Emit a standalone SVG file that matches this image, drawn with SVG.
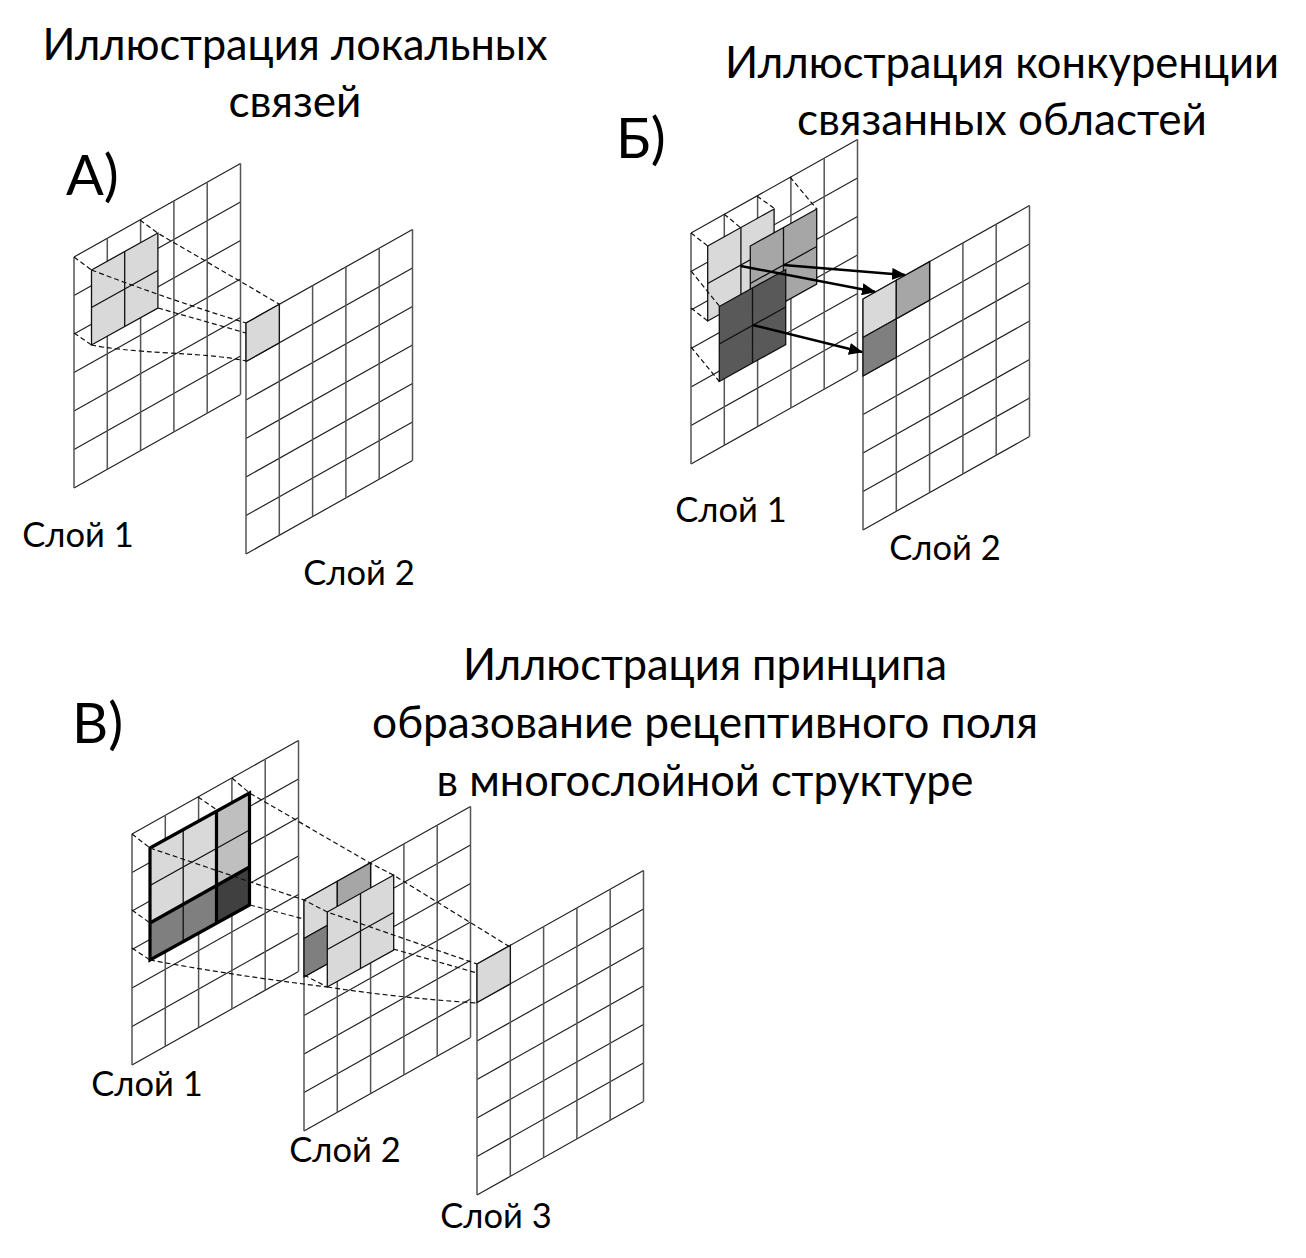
<svg xmlns="http://www.w3.org/2000/svg" width="1306" height="1258" viewBox="0 0 1306 1258">
<style>
text{font-family:"Lato","Open Sans","Noto Sans",sans-serif;fill:#000}
.t{font-size:44px;text-anchor:middle}
.l{font-size:34.5px;text-anchor:middle}
.h{font-size:56px}
.gv{fill:none;stroke:#555;stroke-width:1.5}
.gh{fill:none;stroke:#222;stroke-width:1.2}
.d{fill:none;stroke:#111;stroke-width:1.2;stroke-dasharray:5 3}
.a{fill:none;stroke:#000;stroke-width:2.4;marker-end:url(#ah)}
.k{fill:none;stroke:#000;stroke-width:3.2}
.p1{fill:#d9d9d9}.p2{fill:#a6a6a6}.p3{fill:#7f7f7f}.p4{fill:#595959}.p5{fill:#bfbfbf}.p6{fill:#404040}
</style>
<defs>
<marker id="ah" markerUnits="userSpaceOnUse" markerWidth="14" markerHeight="12" refX="13" refY="6" orient="auto"><path d="M0 0L14 6L0 12z" fill="#000"/></marker>
<g id="grid"><path class="gh" d="M0 0L166.5-93.5M0 38.5L166.5-55M0 77L166.5-16.5M0 115.5L166.5 22M0 154L166.5 60.5M0 192.5L166.5 99M0 231L166.5 137.5"/><path class="gv" d="M0 0V231M33.3-18.7V212.3M66.6-37.4V193.6M99.9-56.1V174.9M133.2-74.8V156.2M166.5-93.5V137.5"/></g>
<g id="patch2"><path d="M0 0L66.4-37V38L0 75z" stroke="#111" stroke-width="1.3"/><path d="M33.2-18.5V56.5M0 37.5L66.4 .5" fill="none" stroke="#111" stroke-width="1.3"/></g>
<path id="cell" stroke="#111" stroke-width="1.3" d="M0 0L33.3-18.7V19.8L0 38.5z"/>
</defs>

<g id="title-a"><text class="t" x="295" y="60" textLength="505" lengthAdjust="spacingAndGlyphs">Иллюстрация локальных</text><text class="t" x="295" y="117" textLength="133" lengthAdjust="spacingAndGlyphs">связей</text></g>
<g id="title-b"><text class="t" x="1002" y="78" textLength="554" lengthAdjust="spacingAndGlyphs">Иллюстрация конкуренции</text><text class="t" x="1002" y="135" textLength="410" lengthAdjust="spacingAndGlyphs">связанных областей</text></g>
<g id="title-c"><text class="t" x="705" y="680" textLength="484" lengthAdjust="spacingAndGlyphs">Иллюстрация принципа</text><text class="t" x="705" y="738" textLength="666" lengthAdjust="spacingAndGlyphs">образование рецептивного поля</text><text class="t" x="705" y="796" textLength="537" lengthAdjust="spacingAndGlyphs">в многослойной структуре</text></g>
<text id="mark-a" class="h" x="66" y="195">А)</text>
<text id="mark-b" class="h" x="616" y="158">Б)</text>
<text id="mark-c" class="h" x="72" y="743">В)</text>

<g id="a-layer1"><use href="#grid" x="74" y="257"/><use class="p1" href="#patch2" x="91.5" y="270"/><text class="l" x="78" y="547">Слой 1</text></g>
<g id="a-layer2"><use href="#grid" x="246" y="323"/><use class="p1" href="#cell" x="246" y="323"/><text class="l" x="359" y="585">Слой 2</text></g>

<g id="b-layer1"><use href="#grid" x="691" y="233"/>
<use class="p1" href="#patch2" x="707.7" y="246"/><use class="p2" href="#patch2" x="750.3" y="246"/><use class="p4" href="#patch2" x="719.3" y="306.5"/><text class="l" x="731" y="522">Слой 1</text></g>
<g id="b-layer2"><use href="#grid" x="863" y="299"/><use class="p1" href="#cell" x="863" y="299"/><use class="p2" href="#cell" x="896.3" y="280.3"/><use class="p3" href="#cell" x="863" y="337.5"/><text class="l" x="945" y="560">Слой 2</text></g>

<g id="c-layer1"><use href="#grid" x="132" y="834"/>
<path class="p1" d="M150 848L216.5 811V885.5L150 923z"/><path class="p5" d="M216.5 811L249.5 793V867L216.5 885.5z"/><path class="p3" d="M150 923L216.5 885.5V923L150 960z"/><path class="p6" d="M216.5 885.5L249.5 867V905L216.5 923z"/>
<path fill="none" stroke="#111" stroke-width="1.3" d="M183.2 829.5V941.5M150 885.5L249.5 830"/>
<path class="k" d="M150 848L249.5 793V905L150 960zM216.5 811V923M150 923L249.5 867"/>
<text class="l" x="147" y="1096">Слой 1</text></g>
<g id="c-layer2"><use href="#grid" x="304" y="900"/><use class="p1" href="#cell" x="304" y="900"/><use class="p2" href="#cell" x="337.3" y="881.3"/><use class="p3" href="#cell" x="304" y="938.5"/><use class="p1" href="#patch2" x="327.3" y="912"/><text class="l" x="345" y="1162">Слой 2</text></g>
<g id="c-layer3"><use href="#grid" x="477" y="964"/><use class="p1" href="#cell" x="477" y="964"/><text class="l" x="496" y="1228">Слой 3</text></g>

<g id="connectors">
<path class="d" d="M74 257L91.5 270M74 333L91.5 345M140 220L157.5 233L279 304M91.5 270Q170 300 246 323M158 308L246 333M91.5 345Q115 350 170 353T246 361"/>
<path class="d" d="M691 233L707.7 246M724 214L741 228M757 196L773.7 208M790 177L816.7 209M691 271L719.3 306M691 308L707.7 321M691 347L719.3 381.5"/>
<path class="a" d="M740.7 266L875 291.7"/><path class="a" d="M783.5 265L905 275"/><path class="a" d="M752.5 325L862 352"/>
<path class="d" d="M132 834L150 848M198 797L217 810M232 778L249.5 793L370 863L393.3 875L510 947M132 910L150 923M132 948L150 960M150 848L304 900L327.3 912L477 964M250 905L304 919M150 960Q230 975 327.3 987M304 975L327.3 987M393.3 949L477 973M327.3 987Q400 998 477 1003"/>
</g>
</svg>
